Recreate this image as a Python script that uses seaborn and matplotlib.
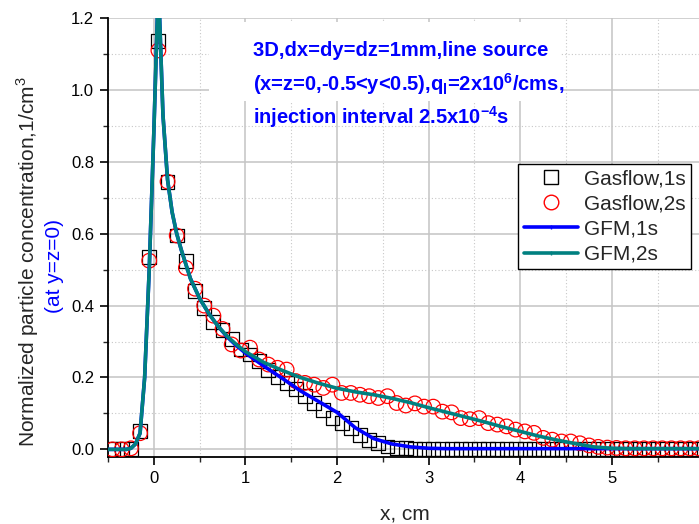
import numpy as np
import pandas as pd
import matplotlib
matplotlib.use("Agg")
import matplotlib.pyplot as plt
from matplotlib.lines import Line2D
from matplotlib.ticker import MultipleLocator
import seaborn as sns

# Gasflow cell-centre samples (x in cm)
x_gas = np.round(np.arange(-0.45, 6.0, 0.1), 2)

gasflow_1s = [
    0.0, 0.0, 0.0, 0.05, 0.535, 1.135, 0.745, 0.595, 0.525, 0.44,
    0.394, 0.354, 0.332, 0.308, 0.278, 0.264, 0.245, 0.222, 0.202, 0.185,
    0.168, 0.148, 0.129, 0.110, 0.087, 0.073, 0.059, 0.040, 0.027, 0.017,
    0.008, 0.005, 0.003, 0.002, 0.002,
    0.002, 0.002, 0.002, 0.002, 0.002, 0.002, 0.002, 0.002, 0.002, 0.002,
    0.002, 0.002, 0.002, 0.002, 0.002, 0.002, 0.002, 0.002, 0.002, 0.002,
    0.002, 0.002, 0.002, 0.002, 0.002, 0.002, 0.002, 0.002, 0.002, 0.002,
]

gasflow_2s = [
    0.0, 0.0, 0.003, 0.045, 0.525, 1.11, 0.745, 0.595, 0.505, 0.447,
    0.40, 0.372, 0.335, 0.292, 0.275, 0.283, 0.25, 0.236, 0.227, 0.222,
    0.19, 0.185, 0.18, 0.171, 0.18, 0.157, 0.157, 0.152, 0.148, 0.143,
    0.148, 0.129, 0.122, 0.128, 0.119,
    0.119, 0.105, 0.103, 0.087, 0.084, 0.087, 0.073, 0.069, 0.064, 0.055,
    0.05, 0.046, 0.032, 0.027, 0.022, 0.022, 0.017, 0.011, 0.007, 0.005,
    0.004, 0.003, 0.003, 0.003, 0.003, 0.003, 0.003, 0.003, 0.003, 0.003,
]

# GFM curves
x_gfm = [-0.5, -0.4, -0.3, -0.25, -0.2, -0.15, -0.1, -0.05, 0.0, 0.05,
         0.1, 0.15, 0.2, 0.25, 0.3, 0.4, 0.5, 0.6, 0.7, 0.8, 0.9,
         1.0, 1.2, 1.4, 1.6, 1.8, 2.0, 2.2, 2.4, 2.6, 2.8, 3.0, 3.2, 3.4,
         3.6, 3.8, 4.0, 4.2, 4.4, 4.6, 4.8, 5.0, 5.2, 5.4, 5.6, 5.8, 6.0]

gfm_1s = [0.0, 0.0, 0.0, 0.003, 0.015, 0.045, 0.2, 0.5, 0.88, 1.3,
          0.93, 0.75, 0.66, 0.6, 0.555, 0.475, 0.42, 0.378, 0.343, 0.313, 0.289,
          0.268, 0.232, 0.198, 0.163, 0.133, 0.103, 0.06, 0.03, 0.015, 0.007,
          0.003, 0.002, 0.002, 0.002, 0.002, 0.002, 0.002, 0.002, 0.002,
          0.002, 0.002, 0.002, 0.002, 0.002, 0.002, 0.002]

gfm_2s = [0.0, 0.0, 0.0, 0.003, 0.015, 0.045, 0.2, 0.5, 0.88, 1.3,
          0.93, 0.75, 0.66, 0.6, 0.555, 0.475, 0.42, 0.378, 0.343, 0.315, 0.292,
          0.272, 0.242, 0.22, 0.2, 0.184, 0.17, 0.16, 0.152, 0.142, 0.13,
          0.116, 0.103, 0.09, 0.077, 0.063, 0.05, 0.037, 0.026, 0.016, 0.007,
          0.003, 0.002, 0.002, 0.002, 0.002, 0.002]

legend_labels = ["Gasflow,1s", "Gasflow,2s", "GFM,1s", "GFM,2s"]

gas_df = pd.DataFrame({"x": x_gas, "g1": gasflow_1s, "g2": gasflow_2s})
gfm_df = pd.DataFrame({"x": x_gfm, "m1": gfm_1s, "m2": gfm_2s})

sns.set_style("white")
plt.rcParams["font.family"] = ["Liberation Sans", "DejaVu Sans"]
plt.rcParams["mathtext.fontset"] = "custom"
plt.rcParams["mathtext.rm"] = "Liberation Sans"
plt.rcParams["mathtext.bf"] = "Liberation Sans:bold"

fig = plt.figure(figsize=(6.99, 5.24), dpi=100)
ax = fig.add_axes([0.1545, 0.128, 0.852, 0.8375])

sns.scatterplot(data=gas_df, x="x", y="g1", marker="s", s=100,
                facecolor="none", edgecolor="black", linewidth=0.9, ax=ax, zorder=3)
sns.scatterplot(data=gas_df, x="x", y="g2", marker="o", s=110,
                facecolor="none", edgecolor="red", linewidth=0.9, ax=ax, zorder=4)
sns.lineplot(data=gfm_df, x="x", y="m1", color="blue", linewidth=2.6,
             sort=False, ax=ax, zorder=5)
sns.lineplot(data=gfm_df, x="x", y="m2", color="#008080", linewidth=2.6,
             sort=False, ax=ax, zorder=6)

ax.set_xlim(-0.5, 6.0)
ax.set_ylim(-0.021, 1.2)
ax.xaxis.set_major_locator(MultipleLocator(1))
ax.xaxis.set_minor_locator(MultipleLocator(0.5))
ax.yaxis.set_major_locator(MultipleLocator(0.2))
ax.yaxis.set_minor_locator(MultipleLocator(0.1))
ax.xaxis.set_major_formatter(matplotlib.ticker.FormatStrFormatter("%d"))
ax.yaxis.set_major_formatter(matplotlib.ticker.FormatStrFormatter("%.1f"))

ax.grid(which="major", color="#c4c4c4", linewidth=1.1)
ax.grid(which="minor", color="#c8c8c8", linewidth=0.8, linestyle=(0, (1, 2)))
ax.set_axisbelow(True)

for side in ["top", "right"]:
    ax.spines[side].set_visible(False)
for side in ["left", "bottom"]:
    ax.spines[side].set_color("black")
    ax.spines[side].set_linewidth(1.3)

ax.tick_params(which="major", direction="out", length=6, width=1.2,
               labelsize=12, pad=4, colors="black", bottom=True, left=True)
ax.tick_params(which="minor", direction="out", length=3.5, width=1.0,
               bottom=True, left=True)
ax.set_xlabel("")
ax.set_ylabel("")

# white box behind the annotation
ax.add_patch(plt.Rectangle((0.169, 0.81), 0.59, 0.18, transform=ax.transAxes,
                           facecolor="white", edgecolor="none", zorder=1.5))

fig.text(253 / 699, 1 - 56 / 524, "3D,dx=dy=dz=1mm,line source",
         color="blue", fontsize=14.5, fontweight="bold", va="baseline")
fig.text(253 / 699, 1 - 91 / 524,
         r"(x=z=0,-0.5<y<0.5),q$_\mathbf{l}$=2x10$^\mathbf{6}$/cms,",
         color="blue", fontsize=14.5, fontweight="bold", va="baseline")
fig.text(253 / 699, 1 - 124 / 524, r"injection interval 2.5x10$^\mathbf{-4}$s",
         color="blue", fontsize=14.5, fontweight="bold", va="baseline")

fig.text(28 / 699, 1 - 262 / 524, "Normalized particle concentration,1/cm$^3$",
         rotation=90, ha="center", va="center", fontsize=15)
fig.text(55 / 699, 1 - 266 / 524, "(at y=z=0)", color="blue",
         rotation=90, ha="center", va="center", fontsize=15)
fig.text(405 / 699, 1 - 520 / 524, "x, cm", ha="center", va="baseline", fontsize=15)

handles = [
    Line2D([], [], linestyle="none", marker="s", markersize=10,
           markerfacecolor="none", markeredgecolor="black"),
    Line2D([], [], linestyle="none", marker="o", markersize=10.5,
           markerfacecolor="none", markeredgecolor="red"),
    Line2D([], [], color="blue", linewidth=2.6, marker="|", markersize=3),
    Line2D([], [], color="#008080", linewidth=2.6, marker="|", markersize=3),
]
leg = ax.legend(handles, legend_labels, loc="upper right",
                bbox_to_anchor=(691 / 699, 1 - 164 / 524),
                bbox_transform=fig.transFigure, borderaxespad=0,
                fontsize=15, frameon=True, fancybox=False, framealpha=1,
                handlelength=2.6, handletextpad=0.3, labelspacing=0.3,
                borderpad=0.25)
leg.get_frame().set_edgecolor("black")
leg.get_frame().set_linewidth(1.0)
leg.set_zorder(10)

fig.savefig("out.png", dpi=100)
